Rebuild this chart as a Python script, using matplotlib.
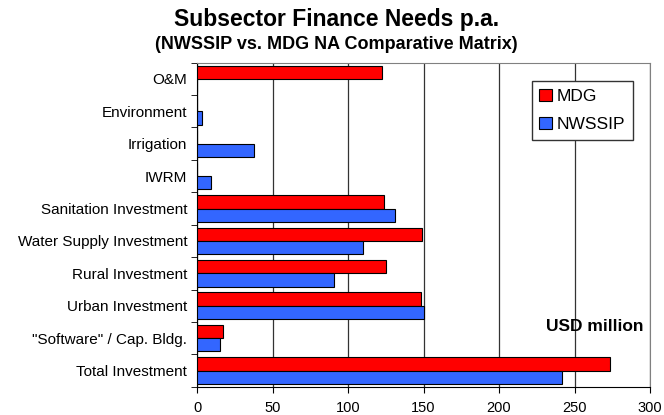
import matplotlib
matplotlib.use('agg')
import matplotlib.pyplot as plt
import numpy as np

plt.rcParams['font.family'] = ['Liberation Sans', 'DejaVu Sans']

# bottom to top, as drawn
categories = ['Total Investment', '"Software" / Cap. Bldg.', 'Urban Investment',
              'Rural Investment', 'Water Supply Investment', 'Sanitation Investment',
              'IWRM', 'Irrigation', 'Environment', 'O&M']
mdg = [273.5, 17.5, 148, 125, 149, 124, 0, 0, 0, 122.5]
nwssip = [241.5, 15, 150.5, 91, 110, 131, 9, 37.5, 3.5, 0]
x_ticks = [0, 50, 100, 150, 200, 250, 300]

fig = plt.figure(figsize=(6.64, 4.15), dpi=100)
ax = fig.add_axes([0.2967, 0.068, 0.6823, 0.781])

y = np.arange(len(categories))
h = 0.41
ax.barh(y + h / 2, mdg, height=h, color='#FF0000', edgecolor='black',
        linewidth=0.8, label='MDG', zorder=3)
ax.barh(y - h / 2, nwssip, height=h, color='#3366FF', edgecolor='black',
        linewidth=0.8, label='NWSSIP', zorder=3)

ax.set_xlim(0, 300)
ax.set_ylim(-0.5, len(categories) - 0.5)
ax.set_xticks(x_ticks)
ax.set_xticklabels([str(t) for t in x_ticks], fontsize=10.5)
ax.set_yticks(y)
ax.set_yticklabels(categories, fontsize=11)
ax.set_yticks(np.arange(-0.5, len(categories)), minor=True)
ax.tick_params(axis='y', which='major', length=0, pad=7)
ax.tick_params(axis='y', which='minor', length=4, direction='out')
ax.tick_params(axis='x', length=4, direction='out', pad=6)
ax.grid(True, axis='x', color='#333333', linewidth=0.9, zorder=0)

for side in ['top', 'right']:
    ax.spines[side].set_color('#808080')
for side in ['left', 'bottom']:
    ax.spines[side].set_color('black')

ax.legend(loc='upper right', bbox_to_anchor=(0.9625, 0.9435), fontsize=12.5,
          frameon=True, fancybox=False, edgecolor='#333333', framealpha=1,
          handlelength=0.7, handleheight=0.7, handletextpad=0.3,
          borderpad=0.45, labelspacing=0.75, borderaxespad=0)

ax.text(0.9845, 0.187, 'USD million', transform=ax.transAxes, ha='right',
        va='center', fontsize=12.5, fontweight='bold')

fig.text(0.507, 0.952, 'Subsector Finance Needs p.a.', ha='center', va='center',
         fontsize=16.5, fontweight='bold')
fig.text(0.507, 0.892, '(NWSSIP vs. MDG NA Comparative Matrix)', ha='center',
         va='center', fontsize=13, fontweight='bold')

fig.savefig('out.png', dpi=100)
